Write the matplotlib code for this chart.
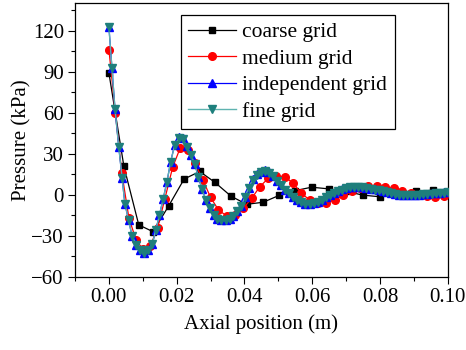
import matplotlib
matplotlib.use("Agg")
import matplotlib.pyplot as plt
from matplotlib.ticker import MultipleLocator

plt.rcParams['font.family'] = ['Liberation Serif', 'DejaVu Serif']
plt.rcParams['mathtext.fontset'] = 'stix'

# ---- data ----
coarse_x = [0.0, 0.0044, 0.0088, 0.0130, 0.0176, 0.0222, 0.0268, 0.0313, 0.0360, 0.0406,
            0.0455, 0.0502, 0.0549, 0.0598, 0.0648, 0.0699, 0.0750, 0.0800, 0.0853, 0.0906, 0.0955]
coarse_y = [89, 21, -22, -27, -8.3, 11.5, 17, 9, -1, -7,
            -5.5, -0.5, 3, 5.5, 4.3, 2.5, -0.3, -1.5, 0.8, 2.7, 3.2]

medium_x = [0.0, 0.0019, 0.0038, 0.0059, 0.0080, 0.0101, 0.0122, 0.0144, 0.0165, 0.0188,
            0.0210, 0.0232, 0.0254, 0.0277, 0.0300, 0.0323, 0.0347, 0.0371, 0.0396, 0.0421,
            0.0445, 0.0470, 0.0494, 0.0519, 0.0544, 0.0568, 0.0593, 0.0617, 0.0642, 0.0667,
            0.0691, 0.0716, 0.0740, 0.0765, 0.0790, 0.0815, 0.0840, 0.0865, 0.0890, 0.0914,
            0.0939, 0.0963, 0.0988]
medium_y = [106, 60, 16, -17, -33, -40, -37.5, -24, -3, 20,
            34, 32.5, 23, 11, -2, -11, -15.5, -14.8, -10, -2.7,
            5.8, 12, 13.6, 13.2, 8.3, 1, -3.9, -6.3, -6, -3.5,
            -0.5, 2.5, 5, 6.5, 6.5, 5.8, 4.6, 2.7, 1, -0.3,
            -1, -1.5, -1.2]

fine_x = [0.0, 0.0009, 0.0018, 0.0029, 0.0039, 0.0047, 0.0058, 0.0068, 0.0080, 0.0092,
          0.0103, 0.0116, 0.0128, 0.0138, 0.0149, 0.0160, 0.0171, 0.0182, 0.0194, 0.0206,
          0.0218, 0.0230, 0.0242, 0.0253, 0.0264, 0.0275, 0.0286, 0.0297, 0.0309, 0.0320,
          0.0332, 0.0344, 0.0356, 0.0367, 0.0379, 0.0390, 0.0401, 0.0412, 0.0424, 0.0436,
          0.0448, 0.0460, 0.0472, 0.0484, 0.0496, 0.0508, 0.0520, 0.0532, 0.0544, 0.0556,
          0.0568, 0.0580, 0.0592, 0.0604, 0.0616, 0.0628, 0.0640, 0.0652, 0.0664, 0.0676,
          0.0688, 0.0700, 0.0712, 0.0724, 0.0736, 0.0748, 0.0760, 0.0772, 0.0784, 0.0796,
          0.0808, 0.0820, 0.0832, 0.0844, 0.0856, 0.0868, 0.0880, 0.0892, 0.0904, 0.0916,
          0.0928, 0.0940, 0.0952, 0.0964, 0.0976, 0.0988, 0.1000]
fine_y = [122.5, 92.5, 62.4, 35, 12.2, -6.5, -18.5, -29.8, -36.4, -40.7,
          -42.5, -40.5, -36, -26, -15, -3, 9, 24, 36, 41.5,
          41, 35, 29, 22.5, 13, 4, -4, -10, -14.5, -17.5,
          -18.8, -18.8, -18, -15.5, -12, -8, -2, 5, 11, 14.5,
          16.5, 17.5, 16, 13.6, 10, 7, 3.5, 1, -1.5, -3.8,
          -5.5, -6.5, -6.8, -6.3, -5, -3.5, -2, -0.5, 1, 2.5,
          3.8, 4.6, 5.3, 5.8, 5.8, 5.3, 4.8, 4.3, 3.8, 3.2,
          2.7, 2, 1.3, 0.5, 0, -0.3, -0.5, -0.5, -0.3, 0,
          0.3, 0.6, 0.9, 1.2, 1.5, 1.5, 1.8]

indep_x = fine_x
indep_y = [122.5, 92.5, 62.4, 35, 12.2, -6.5, -18.5, -29.8, -36.4, -40.7,
           -42.5, -40.5, -36, -26, -15, -3, 9, 24, 36.5, 42,
           41.5, 35.5, 29, 22.5, 13, 4, -4, -10, -14.5, -17.5,
           -18.8, -18.8, -18, -15.5, -12, -8, -2, 5.2, 11.2, 14.8,
           16.8, 17.8, 16.3, 13.8, 10, 7, 3.5, 1, -1.5, -3.8,
           -5.5, -6.5, -6.8, -6.3, -5, -3.5, -2, -0.5, 1, 2.7,
           4, 4.8, 5.5, 6, 6, 5.5, 5, 4.5, 4, 3.4,
           2.8, 2.1, 1.4, 0.6, 0.1, -0.3, -0.5, -0.5, -0.3, 0,
           0.4, 0.7, 1.0, 1.3, 1.6, 1.7, 2.0]

labels = ['coarse grid', 'medium grid', 'independent grid', 'fine grid']

fig = plt.figure(figsize=(4.66, 3.5), dpi=100)
ax = fig.add_axes([0.161, 0.209, 0.800, 0.782])

ax.plot(coarse_x, coarse_y, color='black', lw=0.9, marker='s', ms=4.5,
        mfc='black', mec='black', label=labels[0], zorder=3)
ax.plot(medium_x, medium_y, color='red', lw=0.9, marker='o', ms=5.5,
        mfc='red', mec='red', label=labels[1], zorder=4)
ax.plot(indep_x, indep_y, color='blue', lw=0.9, marker='^', ms=5.5,
        mfc='blue', mec='blue', label=labels[2], zorder=5)
ax.plot(fine_x, fine_y, color='#5fb3b0', lw=1.0, marker='v', ms=5.5,
        mfc='#1e7f7c', mec='#1e7f7c', label=labels[3], zorder=6)

ax.set_xlim(-0.01, 0.10)
ax.set_ylim(-60, 140)
ax.xaxis.set_minor_locator(MultipleLocator(0.01))
ax.yaxis.set_minor_locator(MultipleLocator(15))
ax.set_xticks([0.0, 0.02, 0.04, 0.06, 0.08, 0.10])
ax.set_xticklabels(['0.00', '0.02', '0.04', '0.06', '0.08', '0.10'])
ax.set_yticks([-60, -30, 0, 30, 60, 90, 120])
ax.tick_params(axis='both', which='major', direction='out', length=5, width=0.8,
               labelsize=15, top=False, right=False, pad=3)
ax.tick_params(axis='both', which='minor', direction='out', length=3, width=0.8,
               top=False, right=False)
for s in ax.spines.values():
    s.set_linewidth(0.9)

ax.set_xlabel('Axial position (m)', fontsize=15, labelpad=5)
ax.set_ylabel('Pressure (kPa)', fontsize=15, labelpad=0)

leg = ax.legend(loc='upper right', bbox_to_anchor=(0.857, 0.958), fontsize=15.5,
                frameon=True, fancybox=False, edgecolor='black', framealpha=1,
                handlelength=2.2, labelspacing=0.3, borderpad=0.35,
                handletextpad=0.3, borderaxespad=0.0)
leg.get_frame().set_linewidth(0.9)

fig.savefig('out.png', dpi=100)
